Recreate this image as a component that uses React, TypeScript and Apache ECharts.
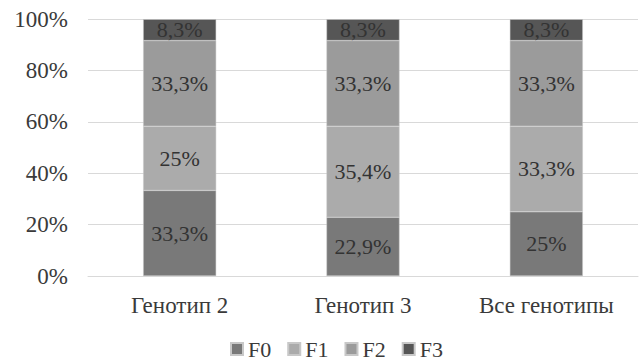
import React, { useEffect, useRef } from "react";
import * as echarts from "echarts";

const categories = ["Генотип 2", "Генотип 3", "Все генотипы"];
const seriesNames = ["F0", "F1", "F2", "F3"];
const f0 = [33.3, 22.9, 25];
const f1 = [25, 35.4, 33.3];
const f2 = [33.3, 33.3, 33.3];
const f3 = [8.3, 8.3, 8.3];
const yTicks = [0, 20, 40, 60, 80, 100];

const colors = ["#797979", "#ababab", "#9b9b9b", "#565656"];
const font = "Times New Roman, Liberation Serif, serif";

export default function App() {
  const ref = useRef<HTMLDivElement>(null);
  useEffect(() => {
    document.body.style.margin = "0";
    if (!ref.current) return;
    const chart = echarts.init(ref.current, null, { renderer: "svg" });
    const data = [f0, f1, f2, f3];
    chart.setOption({
      animation: false,
      textStyle: { fontFamily: font },
      grid: { left: 88, right: 2, top: 19, bottom: 84, containLabel: false },
      legend: {
        data: seriesNames,
        bottom: 0,
        left: 230,
        padding: 0,
        itemWidth: 12,
        itemHeight: 12,
        itemGap: 16,
        icon: "rect",
        textStyle: { fontFamily: font, fontSize: 22, color: "#3a3a3a" },
      },
      xAxis: {
        type: "category",
        data: categories,
        axisTick: { show: false },
        axisLine: { lineStyle: { color: "#d9d9d9" } },
        axisLabel: { fontFamily: font, fontSize: 23, color: "#3a3a3a", margin: 18 },
      },
      yAxis: {
        type: "value",
        min: 0,
        max: 100,
        interval: 20,
        axisLine: { show: false },
        axisTick: { show: false },
        splitLine: { lineStyle: { color: "#d9d9d9" } },
        axisLabel: {
          fontFamily: font,
          fontSize: 23,
          color: "#3a3a3a",
          margin: 20,
          formatter: (v: number) => (yTicks.includes(v) ? v + "%" : ""),
        },
      },
      series: seriesNames.map((name, i) => ({
        name,
        type: "bar",
        stack: "total",
        barWidth: 73,
        data: data[i],
        itemStyle: { color: colors[i], borderColor: "#c8c8c8", borderWidth: 0.5 },
        label: {
          show: true,
          position: "inside",
          fontFamily: font,
          fontSize: 22,
          color: "#333",
          formatter: (p: any) => String(p.value).replace(".", ",") + "%",
        },
      })),
    });
    return () => chart.dispose();
  }, []);
  return <div ref={ref} style={{ width: 640, height: 360 }} />;
}
